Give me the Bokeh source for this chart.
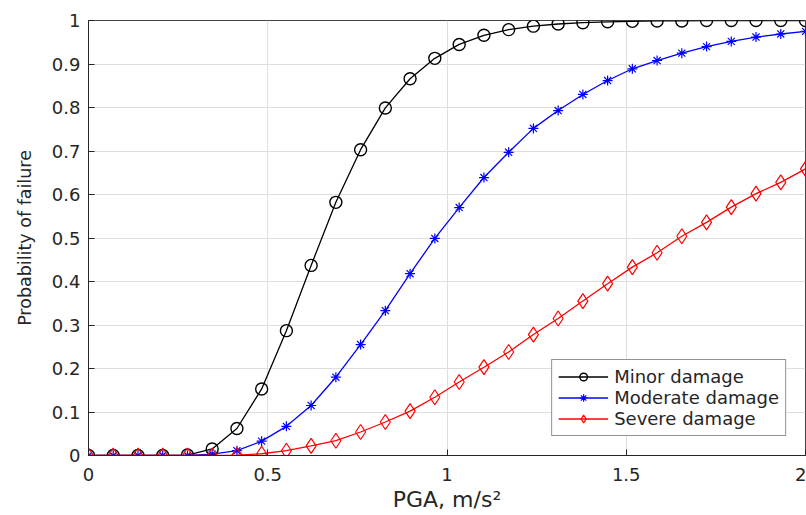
from bokeh.plotting import figure
from bokeh.models import Legend, LegendItem, FixedTicker, Range1d
from bokeh.embed import file_html
from bokeh.resources import INLINE

# ---- data ----
pga = [0.0, 0.069, 0.138, 0.207, 0.276, 0.345, 0.414, 0.483, 0.552, 0.621,
       0.690, 0.759, 0.828, 0.897, 0.966, 1.034, 1.103, 1.172, 1.241, 1.310,
       1.379, 1.448, 1.517, 1.586, 1.655, 1.724, 1.793, 1.862, 1.931, 2.0]
minor = [0, 0, 0, 0, 0.001, 0.015, 0.062, 0.153, 0.287, 0.437,
         0.582, 0.703, 0.799, 0.866, 0.913, 0.945, 0.966, 0.979, 0.987, 0.992,
         0.995, 0.997, 0.998, 0.999, 0.999, 1.0, 1.0, 1.0, 1.0, 1.0]
moderate = [0, 0, 0, 0, 0, 0.003, 0.011, 0.033, 0.067, 0.115,
            0.180, 0.255, 0.333, 0.418, 0.499, 0.570, 0.639, 0.697, 0.752, 0.793,
            0.830, 0.862, 0.889, 0.908, 0.925, 0.940, 0.952, 0.962, 0.969, 0.975]
severe = [0, 0, 0, 0, 0, 0, 0.001, 0.004, 0.011, 0.022,
          0.034, 0.054, 0.077, 0.102, 0.134, 0.169, 0.203, 0.238, 0.278, 0.315,
          0.355, 0.395, 0.433, 0.466, 0.504, 0.536, 0.571, 0.602, 0.628, 0.659]
series_names = ["Minor damage", "Moderate damage", "Severe damage"]
xticks = [0, 0.5, 1, 1.5, 2]
xtick_labels = ["0", "0.5", "1", "1.5", "2"]
yticks = [0, 0.1, 0.2, 0.3, 0.4, 0.5, 0.6, 0.7, 0.8, 0.9, 1]
ytick_labels = ["0", "0.1", "0.2", "0.3", "0.4", "0.5", "0.6", "0.7", "0.8", "0.9", "1"]

FONT = "DejaVu Sans"
AX = "#262626"

p = figure(width=806, height=515, output_backend="svg", toolbar_location=None,
           x_range=Range1d(0, 2), y_range=Range1d(0, 1),
           min_border_left=88, min_border_right=1, min_border_top=20, min_border_bottom=60)
p.background_fill_color = "white"
p.border_fill_color = "white"
p.outline_line_color = "#444444"
p.outline_line_width = 1

for ax in (p.xaxis[0], p.yaxis[0]):
    ax.axis_line_color = AX
    ax.major_tick_line_color = AX
    ax.major_tick_in = 6
    ax.major_tick_out = 0
    ax.minor_tick_line_color = None
    ax.major_label_text_font = FONT
    ax.major_label_text_font_size = "18px"
    ax.major_label_text_color = AX
    ax.axis_label_text_font = FONT
    ax.axis_label_text_font_style = "normal"
    ax.axis_label_text_color = AX

p.xaxis.ticker = FixedTicker(ticks=xticks)
p.xaxis.major_label_overrides = {t: l for t, l in zip(xticks, xtick_labels)}
p.yaxis.ticker = FixedTicker(ticks=yticks)
p.yaxis.major_label_overrides = {t: l for t, l in zip(yticks, ytick_labels)}
p.xaxis.major_label_standoff = 12
p.yaxis.major_label_standoff = 8
p.xaxis.axis_label = "PGA, m/s²"
p.xaxis.axis_label_text_font_size = "22px"
p.xaxis.axis_label_standoff = 3
p.yaxis.axis_label = "Probability of failure"
p.yaxis.axis_label_text_font_size = "17.5px"
p.yaxis.axis_label_standoff = 14

p.xgrid.ticker = FixedTicker(ticks=xticks)
p.ygrid.ticker = FixedTicker(ticks=yticks)
p.grid.grid_line_color = "#dedede"
p.grid.grid_line_width = 1

items = []
l1 = p.line(pga, minor, line_color="black", line_width=1.3)
s1 = p.scatter(pga, minor, marker="circle", size=12, fill_color=None,
               line_color="black", line_width=1.4)
items.append(LegendItem(label=series_names[0], renderers=[l1, s1]))

l2 = p.line(pga, moderate, line_color="#0000ff", line_width=1.3)
s2 = p.scatter(pga, moderate, marker="asterisk", size=10,
               line_color="#0000ff", line_width=1.2)
items.append(LegendItem(label=series_names[1], renderers=[l2, s2]))

l3 = p.line(pga, severe, line_color="#ff0000", line_width=1.3)
s3 = p.scatter(pga, severe, marker="diamond", size=15, fill_color=None,
               line_color="#ff0000", line_width=1.2)
items.append(LegendItem(label=series_names[2], renderers=[l3, s3]))

legend = Legend(items=items, location="bottom_right", margin=19,
                border_line_color=AX, border_line_width=1,
                background_fill_color="white", background_fill_alpha=1,
                label_text_font=FONT, label_text_font_size="18px",
                label_text_color="#262626",
                glyph_width=50, glyph_height=19, label_height=19,
                label_standoff=6, spacing=0, padding=6)
p.add_layout(legend, "center")

open("out.html", "w").write(file_html(p, INLINE))
